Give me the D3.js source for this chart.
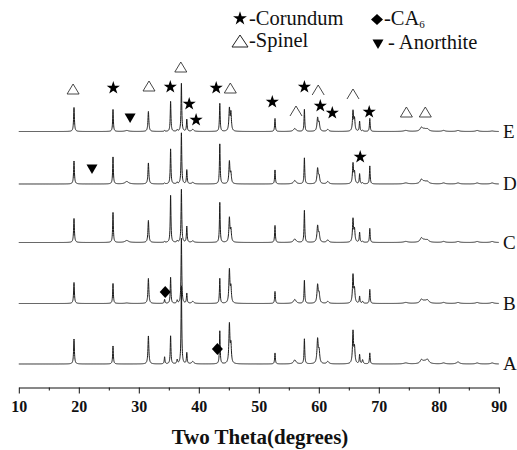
<!DOCTYPE html>
<html>
<head>
<meta charset="utf-8">
<script src="https://cdn.jsdelivr.net/npm/d3@7"></script>
<style>
  body { margin: 0; background: #fff; }
  text { font-family: "Liberation Serif", "Times New Roman", serif; fill: #111; }
</style>
</head>
<body>
<svg id="chart" width="517" height="450"></svg>
<script>
// sample names, bottom to top, and their vertical offsets (a.u.)
const samples = ["A", "B", "C", "D", "E"];
const offsets = [24, 84.5, 145.5, 204, 256.5];

// peak positions (2theta) and half widths (deg)
const peakAngles = [19.2, 25.7, 28.0, 31.6, 34.3, 35.3, 36.4, 37.1, 38.0, 39.0,
  43.5, 45.1, 45.35, 52.7, 56.0, 57.6, 59.8, 60.05, 61.5, 65.7,
  65.95, 66.8, 67.3, 68.5, 74.5, 77.1, 77.6, 78.1, 80.8, 83.2, 86.4, 88.9];
const peakWidths = [0.08, 0.07, 0.35, 0.09, 0.07, 0.07, 0.08, 0.07, 0.07, 0.2,
  0.07, 0.1, 0.1, 0.07, 0.25, 0.07, 0.12, 0.12, 0.2, 0.1,
  0.1, 0.07, 0.1, 0.07, 0.4, 0.25, 0.4, 0.3, 0.3, 0.3, 0.3, 0.3];

// peak heights per sample, same order as peakAngles
const heightsA = [25, 18, 0, 28, 7, 28, 4, 78, 11, 2.5, 33, 39, 18, 11, 4, 25, 24, 12, 2.5, 32, 15, 9, 4, 11, 1, 3.5, 2, 4, 1, 2, 1, 1];
const heightsB = [21, 20, 0.5, 25, 4, 26, 3, 65, 10, 2, 25, 33, 15, 12, 4, 23, 18, 9, 2, 28, 13, 7, 2, 14, 1, 3.5, 2, 3, 1, 1, 1, 1];
const heightsC = [24, 30, 2, 22, 1, 47, 1.5, 53, 16, 1.5, 40, 24, 12, 17, 3.5, 32, 16, 8, 2.5, 23, 12, 10, 1, 14, 1, 4, 2, 2, 1, 1, 1, 1];
const heightsD = [23, 27, 2.5, 21, 1, 35, 1.5, 51, 14, 1.5, 40, 22, 10, 14, 3.5, 26, 15, 7, 2.5, 20, 11, 10, 1, 18, 1, 4, 2, 2, 1, 1, 1, 1];
const heightsE = [24, 22, 1, 20, 1, 30, 1.5, 48, 12, 2, 28, 22, 18, 13, 3, 22, 13, 8, 2, 20, 12, 10, 1, 13, 1, 3.5, 2, 2, 1, 1, 1, 0.5];
const allHeights = [heightsA, heightsB, heightsC, heightsD, heightsE];

// phase markers: angle, level (a.u.) and phase
const markerAngles = [19.05, 31.7, 37.0, 45.25, 74.6, 77.75, 56.2, 59.9, 65.7,
  25.75, 35.25, 38.4, 39.55, 42.9, 52.25, 57.6, 60.25, 62.25, 68.4, 66.9,
  28.55, 22.2, 34.4, 43.1];
const markerLevels = [299, 302, 321, 300, 276, 276, 277, 298, 294,
  300, 301, 284, 268, 300, 286, 301, 282, 275, 276, 231,
  270, 219, 96, 39];
const markerTypes = ["spinel", "spinel", "spinel", "spinel", "spinel", "spinel", "caret", "caret", "caret",
  "star", "star", "star", "star", "star", "star", "star", "star", "star", "star", "star",
  "anorthite", "anorthite", "ca6", "ca6"];

const majorTicks = [10, 20, 30, 40, 50, 60, 70, 80, 90];
const minorTicks = [15, 25, 35, 45, 55, 65, 75, 85];

const svg = d3.select("#chart");
const axisY = 387.5;

const x = d3.scaleLinear().domain([10, 90]).range([18.8, 498.8]);
const y = d3.scaleLinear().domain([0, 388]).range([388, 0]);

function profile(heights) {
  const pts = [];
  for (let i = 0; i <= 4000; i++) {
    const t = 10 + i * 0.02;
    let v = 0;
    peakAngles.forEach((c, k) => {
      const u = (t - c) / peakWidths[k];
      v += heights[k] / (1 + u * u);
    });
    pts.push([t, v]);
  }
  return pts;
}

const line = d3.line()
  .x(d => x(d[0]))
  .y(d => d[1]);

samples.forEach((name, i) => {
  const pts = profile(allHeights[i]).map(p => [p[0], y(offsets[i] + p[1])]);
  svg.append("path")
    .attr("d", line(pts))
    .attr("fill", "none")
    .attr("stroke", "#1c1c1c")
    .attr("stroke-width", 1);

  svg.append("text")
    .attr("x", 503)
    .attr("y", y(offsets[i]) + 6)
    .attr("font-size", "19px")
    .text(name);
});

// marker shapes
function shapePath(type) {
  if (type === "star") return d3.symbol(d3.symbolStar, 54)();
  if (type === "spinel") return "M0,-5L6,5L-6,5Z";
  if (type === "caret") return "M-6,5L0,-5L6,5";
  if (type === "anorthite") return "M-5.5,-4.5L5.5,-4.5L0,5Z";
  if (type === "ca6") return "M0,-6L5.5,0L0,6L-5.5,0Z";
}
function filled(type) {
  return type === "star" || type === "anorthite" || type === "ca6";
}

markerAngles.forEach((a, i) => {
  const t = markerTypes[i];
  svg.append("path")
    .attr("transform", `translate(${x(a)},${y(markerLevels[i])})`)
    .attr("d", shapePath(t))
    .attr("fill", filled(t) ? "#000" : "none")
    .attr("stroke", filled(t) ? "none" : "#333")
    .attr("stroke-width", 0.9);
});

// legend
const legend = svg.append("g");
legend.append("path").attr("transform", "translate(240,18.5)")
  .attr("d", d3.symbol(d3.symbolStar, 60)()).attr("fill", "#000");
legend.append("text").attr("x", 249).attr("y", 25).attr("font-size", "20.5px").text("-Corundum");

legend.append("path").attr("transform", "translate(377,19.5)")
  .attr("d", "M0,-5.5L6,0L0,5.5L-6,0Z").attr("fill", "#000");
const ca = legend.append("text").attr("x", 384).attr("y", 25).attr("font-size", "20.5px");
ca.append("tspan").text("-CA");
ca.append("tspan").attr("font-size", "11px").attr("dy", 3).text("6");

legend.append("path").attr("transform", "translate(240,41)")
  .attr("d", "M0,-6L8,6L-8,6Z").attr("fill", "none").attr("stroke", "#222").attr("stroke-width", 1);
legend.append("text").attr("x", 249).attr("y", 47).attr("font-size", "20.5px").text("-Spinel");

legend.append("path").attr("transform", "translate(378,44)")
  .attr("d", "M-5.5,-4.5L5.5,-4.5L0,5Z").attr("fill", "#000");
legend.append("text").attr("x", 388).attr("y", 49).attr("font-size", "20.5px").text("- Anorthite");

// x axis
const gMinor = svg.append("g")
  .attr("transform", `translate(0,${axisY})`)
  .call(d3.axisBottom(x).tickValues(minorTicks).tickSize(3).tickFormat(""));
gMinor.select(".domain").remove();

const gAxis = svg.append("g")
  .attr("transform", `translate(0,${axisY})`)
  .call(d3.axisBottom(x).tickValues(majorTicks).tickSize(6).tickSizeOuter(0).tickPadding(7).tickFormat(d3.format("d")));

svg.selectAll(".tick line, .domain").attr("stroke", "#111").attr("stroke-width", 1);
gAxis.selectAll(".tick text")
  .attr("font-family", "Liberation Serif, serif")
  .attr("font-weight", "bold")
  .attr("font-size", "16px")
  .attr("fill", "#111");

svg.append("text")
  .attr("x", 260)
  .attr("y", 444)
  .attr("text-anchor", "middle")
  .attr("font-weight", "bold")
  .attr("font-size", "21px")
  .text("Two Theta(degrees)");
</script>
</body>
</html>
